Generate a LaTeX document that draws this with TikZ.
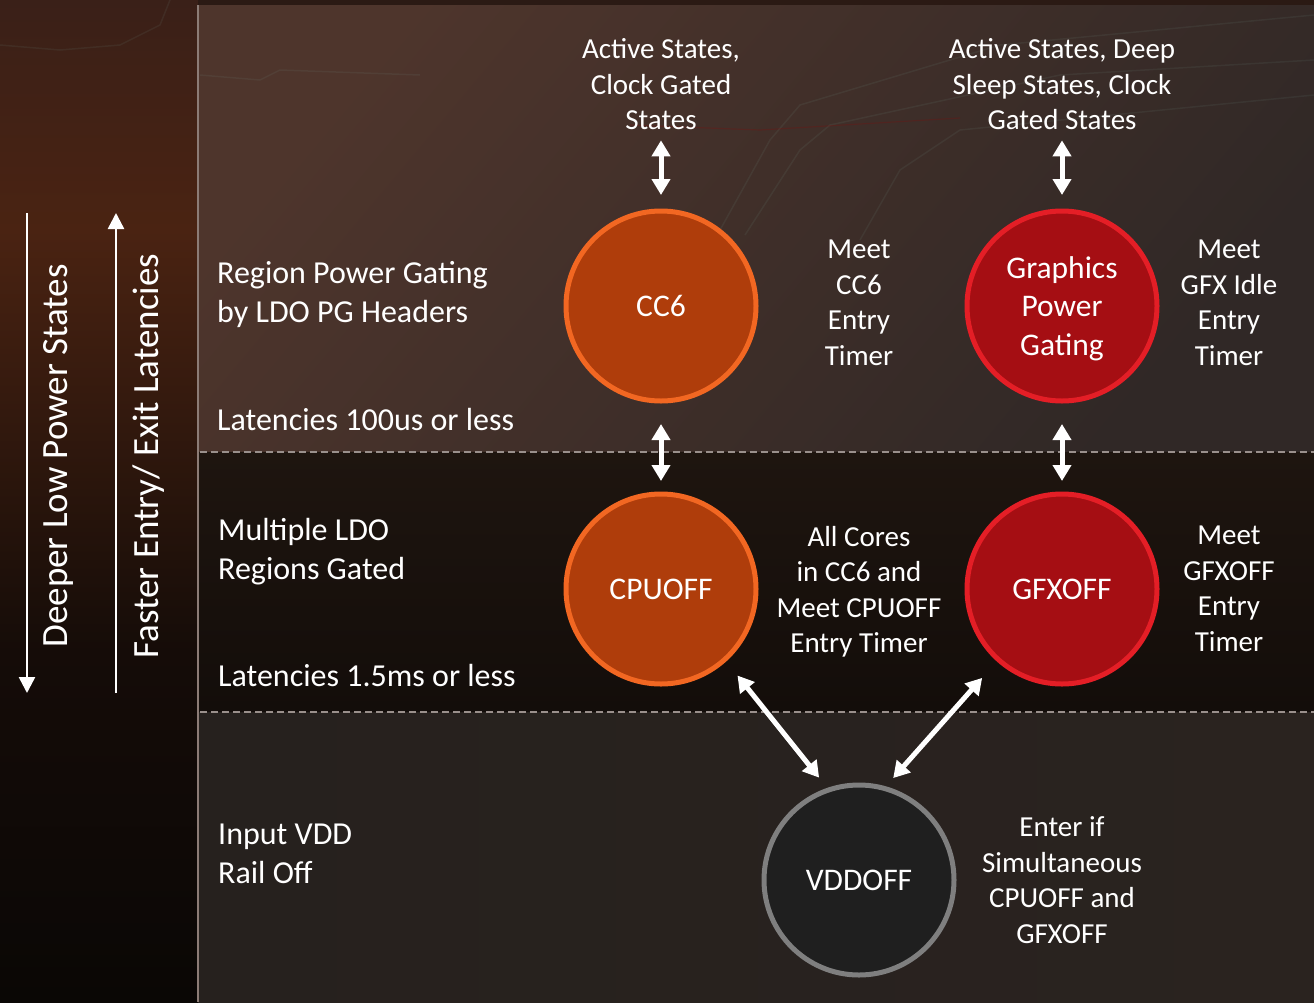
\documentclass[tikz,border=0pt]{standalone}
\usepackage{fontspec}
\setmainfont{Carlito}
\usetikzlibrary{arrows.meta,calc}

\definecolor{cpuFill}{HTML}{AF3D0B}
\definecolor{cpuEdge}{HTML}{F26722}
\definecolor{gfxFill}{HTML}{A50E13}
\definecolor{gfxEdge}{HTML}{E41E26}
\definecolor{vddFill}{HTML}{1F1F1F}
\definecolor{vddEdge}{HTML}{7F7F7F}
\definecolor{sepLine}{HTML}{9A908C}
\definecolor{frameLine}{HTML}{8C7C76}
\definecolor{trace}{HTML}{7FA9A0}
\definecolor{baseDark}{HTML}{140C09}
\definecolor{leftTop}{HTML}{3A2018}
\definecolor{leftGlow}{HTML}{4A2312}
\definecolor{leftLow}{HTML}{150C08}
\definecolor{leftBot}{HTML}{0A0705}
\definecolor{topStrip}{HTML}{2B1A14}
\definecolor{upperA}{HTML}{4E352C}
\definecolor{upperB}{HTML}{302826}
\definecolor{midA}{HTML}{1E150F}
\definecolor{midB}{HTML}{130D0A}
\definecolor{lowA}{HTML}{26211E}
\definecolor{lowB}{HTML}{322821}
\definecolor{lowC}{HTML}{2A231F}

\begin{document}
\begin{tikzpicture}[x=1pt,y=-1pt,
  pstate/.style={circle, line width=5pt, minimum size=190pt, inner sep=0pt,
    text=white, align=center, font=\fontsize{31.5}{38.5}\selectfont},
  cpustate/.style={pstate, draw=cpuEdge, fill=cpuFill},
  gfxstate/.style={pstate, draw=gfxEdge, fill=gfxFill},
  vddstate/.style={pstate, draw=vddEdge, fill=vddFill},
  note/.style={text=white, align=center, inner sep=0pt,
    font=\fontsize{29}{35.5}\selectfont},
  tierlabel/.style={text=white, align=left, inner sep=0pt, anchor=west,
    font=\fontsize{32}{39}\selectfont},
  axislabel/.style={text=white, rotate=90, inner sep=0pt,
    font=\fontsize{37}{44}\selectfont},
  dbl/.style={draw=white, line width=5pt,
    {Triangle[width=18pt,length=16pt]}-{Triangle[width=18pt,length=16pt]}},
  axisarrow/.style={draw=white, line width=2.5pt, -{Triangle[width=16pt,length=16pt]}},
  tierline/.style={draw=sepLine, line width=2pt, dash pattern=on 7pt off 4pt},
]
\useasboundingbox (0,0) rectangle (1314,1002);

% ---- background panels ----
\fill[baseDark] (0,0) rectangle (1314,1002);
\shade[top color=leftTop, bottom color=leftGlow] (0,0) rectangle (198,231);
\shade[top color=leftGlow, bottom color=leftLow] (0,230) rectangle (198,651);
\shade[top color=leftLow, bottom color=leftBot] (0,650) rectangle (198,1002);
\fill[topStrip] (198,0) rectangle (1314,5);
\shade[top color=upperA, bottom color=upperB, shading angle=50] (198,5) rectangle (1314,452);
\shade[top color=midA, bottom color=midB] (198,452) rectangle (1314,712);
\shade[left color=lowA, middle color=lowB, right color=lowC] (198,712) rectangle (1314,1002);

% faint circuit traces in the backdrop
\begin{scope}[draw=trace, line width=1.5pt, opacity=0.09]
  \draw (720,230) -- (770,140) -- (800,105) -- (1000,45) -- (1314,15);
  \draw (745,235) -- (800,150) -- (830,125) -- (1060,75) -- (1314,60);
  \draw (860,240) -- (900,170) -- (960,130) -- (1314,95);
  \draw (200,75) -- (260,80) -- (280,70) -- (420,75);
  \draw (0,45) -- (60,50) -- (120,45) -- (160,25) -- (170,0);
\end{scope}
\draw[red!60!black, line width=1.2pt, opacity=0.2] (630,125) -- (760,130) -- (960,118);

% ---- panel frame ----
\draw[frameLine, line width=2pt] (198,5) -- (198,1002);
\draw[tierline] (200,452) -- (1314,452);
\draw[tierline] (200,712) -- (1314,712);

% ---- axis arrows and labels ----
\coordinate (deepTop) at (27,213);
\coordinate (deepEnd) at (27,693);
\coordinate (fastBot) at (116,693);
\coordinate (fastEnd) at (116,213);
\draw[axisarrow] (deepTop) -- (deepEnd);
\draw[axisarrow] (fastBot) -- (fastEnd);
\node[axislabel] (deeper) at (58.5,456) {Deeper Low Power States};
\node[axislabel] (faster) at (149,456) {Faster Entry/ Exit Latencies};

% ---- tier labels ----
\node[tierlabel] (tierA) at (217,295) {Region Power Gating\\by LDO PG Headers};
\node[tierlabel] (latA) at (217,419) {Latencies 100us or less};
\node[tierlabel] (tierB) at (218,552) {Multiple LDO\\Regions Gated};
\node[tierlabel] (latB) at (218,676) {Latencies 1.5ms or less};
\node[tierlabel] (tierC) at (218,854) {Input VDD\\Rail Off};

% ---- power states ----
\node[cpustate] (cc6) at (661,306) {CC6};
\node[gfxstate] (gpg) at (1062,306) {\raisebox{-3pt}[\height][\depth]{\begin{tabular}{@{}c@{}}Graphics\\Power\\Gating\end{tabular}}};
\node[cpustate] (cpuoff) at (661,589) {CPUOFF};
\node[gfxstate] (gfxoff) at (1062,589) {GFXOFF};
\node[vddstate] (vddoff) at (859,880) {VDDOFF};

% ---- annotations ----
\node[note] (actCpu) at (661,84.5) {Active States,\\Clock Gated\\States};
\node[note] (actGfx) at (1062,84.5) {Active States, Deep\\Sleep States, Clock\\Gated States};
\node[note] (condCC6) at (859,303) {Meet\\CC6\\Entry\\Timer};
\node[note] (condGPG) at (1229,303) {Meet\\GFX Idle\\Entry\\Timer};
\node[note] (condCPU) at (859,592) {All Cores\\in CC6 and\\Meet CPUOFF\\Entry Timer};
\node[note] (condGFX) at (1229,589) {Meet\\GFXOFF\\Entry\\Timer};
\node[note] (condVDD) at (1062,880) {Enter if\\Simultaneous\\CPUOFF and\\GFXOFF};

% ---- transitions ----
\draw[dbl, shorten <=10pt, shorten >=13.5pt] (actCpu.south) -- (cc6.north);
\draw[dbl, shorten <=10pt, shorten >=13.5pt] (actGfx.south) -- (gpg.north);
\draw[dbl, shorten <=20.5pt, shorten >=10.5pt] (cc6.south) -- (cpuoff.north);
\draw[dbl, shorten <=20.5pt, shorten >=10.5pt] (gpg.south) -- (gfxoff.north);
\draw[dbl, shorten <=18pt, shorten >=13pt] (cpuoff.-48.4) -- (vddoff.109.7);
\draw[dbl, shorten <=22pt, shorten >=11pt] (gfxoff.-132) -- (vddoff.74.1);
\end{tikzpicture}
\end{document}
